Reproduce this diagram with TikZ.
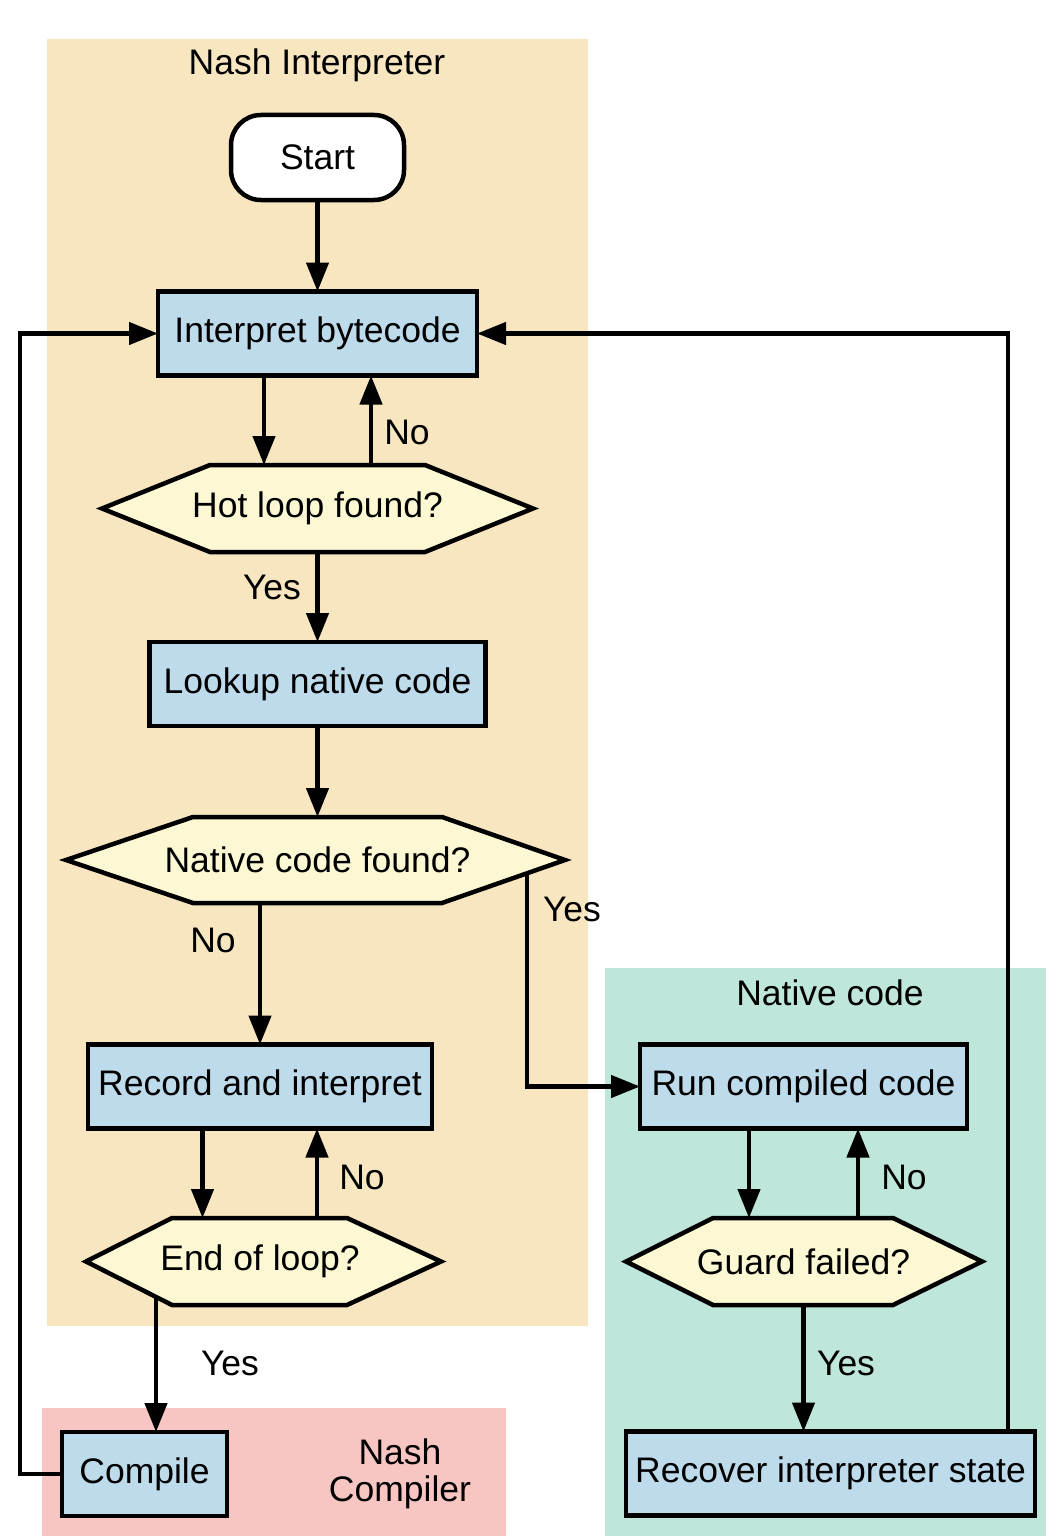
\documentclass[tikz,border=0pt]{standalone}
\usepackage{fontspec}
\setmainfont{Liberation Sans}
\usetikzlibrary{arrows.meta}
\definecolor{tanbg}{HTML}{F8E6C0}
\definecolor{greenbg}{HTML}{BFE6DB}
\definecolor{pinkbg}{HTML}{F7C6C2}
\definecolor{boxblue}{HTML}{BEDBEC}
\definecolor{hexyellow}{HTML}{FBF8D3}
\newcommand\hexshape[7]{\filldraw[hexshp] (#1,#7) -- (#2,#5) -- (#3,#5) -- (#4,#7) -- (#3,#6) -- (#2,#6) -- cycle;}
\begin{document}
\begin{tikzpicture}[x=1pt,y=-1pt,
  every node/.style={font=\fontsize{35.5}{37}\selectfont},
  box/.style={draw, line width=4.5pt, fill=boxblue, minimum height=84pt, inner sep=0pt, outer sep=0pt},
  hexshp/.style={draw, line width=4.5pt, fill=hexyellow},
  hexnode/.style={inner sep=0pt, outer sep=0pt, minimum height=87pt},
  conn/.style={line width=4.5pt},
  arr/.style={conn, -{Triangle[length=29pt,width=22pt]}},
  lbl/.style={inner sep=0pt},
]
\useasboundingbox (0,0) rectangle (1046,1536);
\fill[white] (0,0) rectangle (1046,1536);
% regions
\fill[tanbg] (47,39) rectangle (588,1326);
\fill[greenbg] (605,968) rectangle (1046,1536);
\fill[pinkbg] (42,1408) rectangle (506,1536);
% titles
\node (titleInterp) at (317,65) {Nash Interpreter};
\node (titleNative) at (830,993) {Native code};
\node[align=center] (titleCompiler) at (400,1474) {Nash\\Compiler};
% nodes
\node[draw, line width=4.5pt, fill=white, rounded corners=30pt, minimum width=173pt, minimum height=85pt, inner sep=0pt, outer sep=0pt] (start) at (317.5,157.5) {Start};
\node[box, minimum width=319pt] (interp) at (317.5,333.5) {Interpret bytecode};
\hexshape{102}{210}{425}{533}{465}{552}{508.5}
\node[hexnode] (hot) at (317.5,508.5) {Hot loop found?};
\node[box, minimum width=336pt] (lookup) at (317.5,684) {Lookup native code};
\hexshape{66}{193}{442}{565}{817}{903}{860}
\node[hexnode, minimum height=86pt] (native) at (317.5,860) {Native code found?};
\node[box, minimum width=344pt] (record) at (260,1086.5) {Record and interpret};
\hexshape{86}{172}{347}{441}{1218}{1305}{1261.5}
\node[hexnode] (endloop) at (260,1261.5) {End of loop?};
\node[box, minimum width=327pt] (run) at (803.5,1086.5) {Run compiled code};
\hexshape{626}{713}{893}{982}{1218}{1305}{1261.5}
\node[hexnode] (guard) at (803.5,1261.5) {Guard failed?};
\node[box, minimum width=409pt] (recover) at (830.5,1473.5) {Recover interpreter state};
\node[box, minimum width=165pt] (compile) at (144.5,1474) {Compile};
% connectors
\draw[arr] (start.south) -- (interp.north);
\draw[arr] ([xshift=-53.5pt]interp.south) -- ([xshift=-53.5pt]hot.north);
\draw[arr] ([xshift=53.5pt]hot.north) -- ([xshift=53.5pt]interp.south);
\draw[arr] (hot.south) -- (lookup.north);
\draw[arr] (lookup.south) -- (native.north);
\draw[arr] (record.north |- native.south) -- (record.north);
\coordinate (nyes) at (527,874);
\draw[arr] (nyes) |- (run.west);
\draw[arr] ([xshift=-57.5pt]record.south) -- ([xshift=-57.5pt]endloop.north);
\draw[arr] ([xshift=57pt]endloop.north) -- ([xshift=57pt]record.south);
\coordinate (eyes) at (156,1297);
\draw[arr] (eyes) -- (eyes |- compile.north);
\draw[arr] ([xshift=-54.5pt]run.south) -- ([xshift=-54.5pt]guard.north);
\draw[arr] ([xshift=54.5pt]guard.north) -- ([xshift=54.5pt]run.south);
\draw[arr] (guard.south) -- (guard.south |- recover.north);
\draw[arr] (compile.west) -- ++(-42,0) |- (interp.west);
\draw[arr] ([xshift=177.5pt]recover.north) |- (interp.east);
% labels
\node[lbl] (lNo1) at (407,432) {No};
\node[lbl] (lYes1) at (272,587) {Yes};
\node[lbl] (lNo2) at (213,940) {No};
\node[lbl] (lYes2) at (572,909) {Yes};
\node[lbl] (lNo3) at (362,1177) {No};
\node[lbl] (lNo4) at (904,1177) {No};
\node[lbl] (lYes3) at (230,1363) {Yes};
\node[lbl] (lYes4) at (846,1363) {Yes};
\end{tikzpicture}
\end{document}
